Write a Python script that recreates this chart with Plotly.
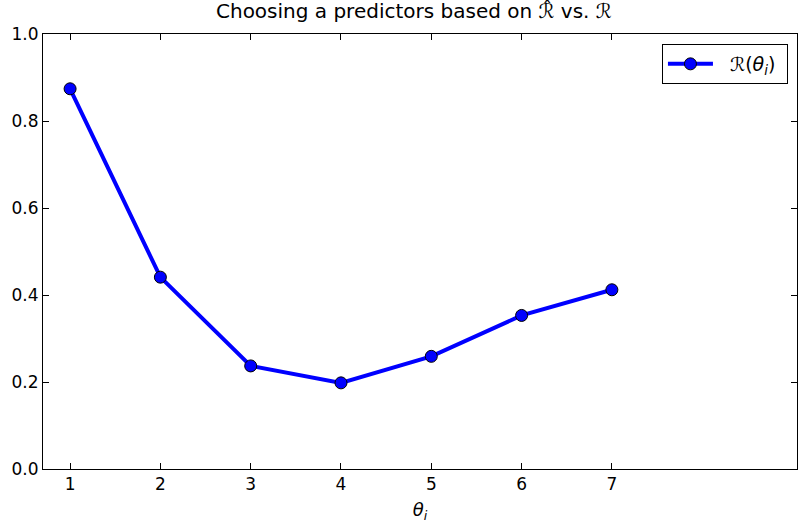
import plotly.graph_objects as go

x_vals = [1, 2, 3, 4, 5, 6, 7]
risk = [0.874, 0.441, 0.237, 0.198, 0.259, 0.353, 0.412]
x_ticks = [1, 2, 3, 4, 5, 6, 7]
y_ticks = [0.0, 0.2, 0.4, 0.6, 0.8, 1.0]
y_labels = ["0.0", "0.2", "0.4", "0.6", "0.8", "1.0"]

fig = go.Figure()
fig.add_trace(go.Scatter(
    x=x_vals, y=risk, mode="lines+markers",
    name="  ℛ(<i>θ<sub>i</sub></i>) ",
    line=dict(color="#0000ff", width=4),
    marker=dict(color="#0000ff", size=12, line=dict(color="black", width=1)),
))

fig.update_layout(
    width=799, height=523,
    margin=dict(l=43, r=2, t=34, b=54),
    paper_bgcolor="white", plot_bgcolor="white",
    font=dict(family="DejaVu Sans", size=16, color="black"),
    title=dict(text="Choosing a predictors based on ℛ\u0302 vs. ℛ",
               x=0.518, xanchor="center", y=0.992, yanchor="top",
               font=dict(size=20)),
    showlegend=True,
    legend=dict(x=0.988, y=0.977, xanchor="right", yanchor="top",
                bordercolor="black", borderwidth=1, bgcolor="white",
                itemwidth=45, font=dict(size=19)),
    xaxis=dict(range=[0.7, 9.05], tickvals=x_ticks, ticks="inside", ticklen=6,
               tickcolor="black", showline=True, linecolor="black", linewidth=1,
               mirror="allticks", showgrid=False, zeroline=False,
               tickfont=dict(size=17),
               title=dict(text="<i>θ<sub>i</sub></i>", font=dict(size=18), standoff=10)),
    yaxis=dict(range=[0, 1.0], tickvals=y_ticks, ticktext=y_labels, ticks="inside",
               ticklen=6, tickcolor="black", showline=True, linecolor="black",
               linewidth=1, mirror="allticks", showgrid=False, zeroline=False,
               tickfont=dict(size=17)),
)

fig.write_html("out.html")
